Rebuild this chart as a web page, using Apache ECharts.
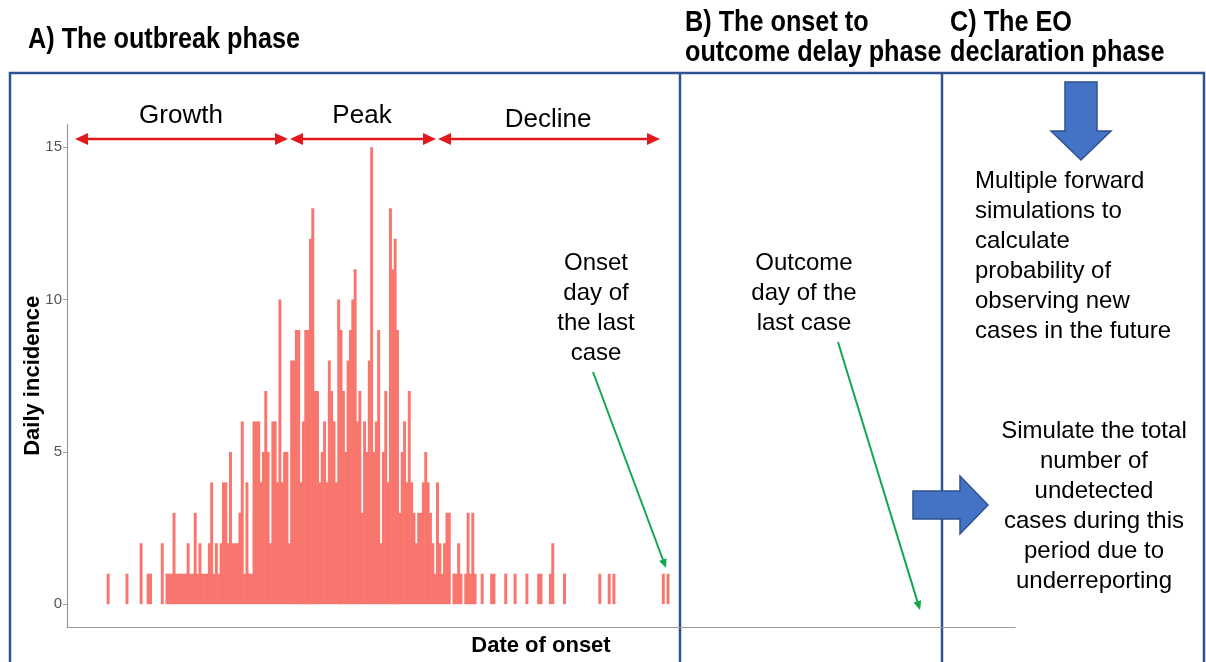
<!DOCTYPE html>
<html lang="en">
<head>
<meta charset="UTF-8">
<title>Outbreak phases</title>
<script src="https://cdn.jsdelivr.net/npm/echarts@6/dist/echarts.min.js"></script>
<style>html, body { margin: 0; padding: 0; background: #fff; }</style>
</head>
<body>
<div id="main" style="width: 1206px; height: 662px"></div>
<script>
// daily incidence by day of onset, day 0 = first case
let dayCounts = [
    1, 0, 0, 0, 0, 0, 0, 0, 1, 0, 0, 0, 0, 0, 2, 0, 0, 1, 1, 0,
    0, 0, 0, 2, 0, 1, 1, 1, 3, 1, 1, 1, 1, 1, 2, 1, 1, 3, 1, 2,
    1, 1, 1, 2, 4, 1, 2, 1, 2, 4, 4, 2, 5, 2, 2, 2, 3, 6, 1, 4,
    1, 1, 6, 6, 6, 4, 5, 7, 5, 2, 6, 6, 4, 10, 4, 5, 5, 2, 8, 8,
    9, 9, 4, 6, 9, 9, 12, 13, 7, 7, 4, 5, 6, 4, 8, 7, 6, 4, 10, 9,
    7, 5, 8, 9, 10, 11, 6, 7, 3, 6, 5, 8, 15, 5, 6, 9, 2, 5, 7, 4,
    13, 11, 12, 9, 3, 5, 6, 4, 7, 4, 3, 2, 3, 3, 4, 5, 4, 3, 2, 1,
    4, 2, 1, 2, 3, 3, 0, 1, 1, 2, 1, 0, 1, 3, 1, 3, 1, 0, 0, 1,
    0, 0, 0, 1, 1, 0, 0, 0, 0, 1, 0, 0, 0, 1, 0, 0, 0, 0, 1, 0,
    0, 0, 0, 1, 1, 0, 0, 0, 1, 2, 0, 0, 0, 0, 1, 0, 0, 0, 0, 0,
    0, 0, 0, 0, 0, 0, 0, 0, 0, 1, 0, 0, 0, 1, 0, 1, 0, 0, 0, 0,
    0, 0, 0, 0, 0, 0, 0, 0, 0, 0, 0, 0, 0, 0, 0, 0, 1, 0, 1
];
let leadDays = 17;    // empty days on the axis before the first onset
let axisDays = 403;   // days spanned by the whole x axis
let yTicks = [0, 5, 10, 15];

let phaseNames = ['Growth', 'Peak', 'Decline'];
let headers = [
    {text: 'A) The outbreak phase', x: 28, y: 40},
    {text: 'B) The onset to\noutcome delay phase', x: 685, y: 38},
    {text: 'C) The EO\ndeclaration phase', x: 950, y: 38}
];

let boxColor = '#2F5290';
let red = '#E31A1C';
let green = '#12A84E';
let barColor = '#F8766D';

// padded series over the axis (empty days drawn as nothing)
let days = [];
let counts = [];
for (let i = 0; i < axisDays; i++) {
    days.push(String(i - leadDays));
    let k = i - leadDays;
    let v = k >= 0 && k < dayCounts.length ? dayCounts[k] : 0;
    counts.push(v > 0 ? v : null);
}

function head(x1, y1, x2, y2, len, half, color) {
    let dx = x2 - x1, dy = y2 - y1;
    let d = Math.sqrt(dx * dx + dy * dy);
    let ux = dx / d, uy = dy / d;
    let bx = x2 - ux * len, by = y2 - uy * len;
    return {
        type: 'polygon', silent: true,
        shape: {points: [[x2, y2], [bx - uy * half, by + ux * half], [bx + uy * half, by - ux * half]]},
        style: {fill: color}
    };
}

function arrow(x1, y1, x2, y2, color, width, len, half, both) {
    let dx = x2 - x1, dy = y2 - y1;
    let d = Math.sqrt(dx * dx + dy * dy);
    let ux = dx / d, uy = dy / d;
    let sx = both ? x1 + ux * len * 0.8 : x1, sy = both ? y1 + uy * len * 0.8 : y1;
    let out = [{
        type: 'line', silent: true,
        shape: {x1: sx, y1: sy, x2: x2 - ux * len * 0.8, y2: y2 - uy * len * 0.8},
        style: {stroke: color, lineWidth: width}
    }, head(x1, y1, x2, y2, len, half, color)];
    if (both) out.push(head(x2, y2, x1, y1, len, half, color));
    return out;
}

function txt(text, x, y, opts) {
    return {
        type: 'text', silent: true, x: x, y: y,
        style: Object.assign({
            text: text, fill: '#000', font: '24px "Liberation Sans", Arial, sans-serif',
            align: 'center', verticalAlign: 'top', lineHeight: 30
        }, opts || {})
    };
}

let g = [];

// panel frames
g.push({type: 'polyline', silent: true,
    shape: {points: [[10, 662], [10, 73], [1204, 73], [1204, 662]]},
    style: {stroke: boxColor, lineWidth: 2.5, fill: null}});
g.push({type: 'line', silent: true, shape: {x1: 680, y1: 73, x2: 680, y2: 662},
    style: {stroke: boxColor, lineWidth: 2.5}});
g.push({type: 'line', silent: true, shape: {x1: 942, y1: 73, x2: 942, y2: 662},
    style: {stroke: boxColor, lineWidth: 2.5}});

// narrow bold headings: Arial bold squeezed horizontally
headers.forEach(function (h) {
    let t = txt(h.text, h.x, h.y, {
        font: 'bold 29px "Liberation Sans", Arial, sans-serif',
        align: 'left', verticalAlign: 'middle', lineHeight: 30
    });
    t.scaleX = 0.87;
    g.push(t);
});

// phase arrows
g = g.concat(arrow(75, 139, 288, 139, red, 2.5, 13, 6, true));
g = g.concat(arrow(290, 139, 436, 139, red, 2.5, 13, 6, true));
g = g.concat(arrow(438, 139, 660, 139, red, 2.5, 13, 6, true));
g.push(txt(phaseNames[0], 181, 101, {font: '26px "Liberation Sans", Arial, sans-serif'}));
g.push(txt(phaseNames[1], 362, 101, {font: '26px "Liberation Sans", Arial, sans-serif'}));
g.push(txt(phaseNames[2], 548, 105, {font: '26px "Liberation Sans", Arial, sans-serif'}));

// last case annotations
g.push(txt('Onset\nday of\nthe last\ncase', 596, 248));
g = g.concat(arrow(593, 372, 666, 568, green, 2, 9, 4, false));
g.push(txt('Outcome\nday of the\nlast case', 804, 248));
g = g.concat(arrow(838, 342, 920, 610, green, 2, 9, 4, false));

// declaration phase
g.push({type: 'polygon', silent: true,
    shape: {points: [[1065, 82], [1097, 82], [1097, 131], [1111, 131], [1081, 160], [1051, 131], [1065, 131]]},
    style: {fill: '#4472C4', stroke: '#2F528F', lineWidth: 1.5}});
g.push(txt('Multiple forward\nsimulations to\ncalculate\nprobability of\nobserving new\ncases in the future', 975, 166, {align: 'left'}));
g.push({type: 'polygon', silent: true,
    shape: {points: [[913, 491], [960, 491], [960, 476], [988, 505], [960, 534], [960, 519], [913, 519]]},
    style: {fill: '#4472C4', stroke: '#2F528F', lineWidth: 1.5}});
g.push(txt('Simulate the total\nnumber of\nundetected\ncases during this\nperiod due to\nunderreporting', 1094, 416));

let chart = echarts.init(document.getElementById('main'));
chart.setOption({
    animation: false,
    backgroundColor: '#fff',
    grid: {left: 67, right: 191, top: 124.5, bottom: 28.5, containLabel: false},
    xAxis: {
        type: 'category', data: days, boundaryGap: true,
        name: 'Date of onset', nameLocation: 'middle', nameGap: 8, nameMoveOverlap: false,
        nameTextStyle: {fontSize: 22, fontWeight: 'bold', color: '#000', fontFamily: 'Liberation Sans'},
        axisLine: {onZero: false, lineStyle: {color: '#9a9a9a', width: 1.2}},
        axisTick: {show: false}, axisLabel: {show: false}, splitLine: {show: false}
    },
    yAxis: {
        type: 'value', min: -0.75, max: 15.75,
        name: 'Daily incidence', nameLocation: 'middle', nameGap: 23, nameRotate: 90, nameMoveOverlap: false,
        nameTextStyle: {fontSize: 22, fontWeight: 'bold', color: '#000', fontFamily: 'Liberation Sans'},
        axisLine: {show: true, lineStyle: {color: '#9a9a9a', width: 1.2}},
        axisTick: {show: true, length: 4, customValues: yTicks, lineStyle: {color: '#9a9a9a'}},
        axisLabel: {customValues: yTicks, fontSize: 15, color: '#555', margin: 5, fontFamily: 'Liberation Sans'},
        splitLine: {show: false}
    },
    series: [{
        type: 'bar', data: counts, barWidth: '125%', barGap: '-100%',
        itemStyle: {color: barColor}, silent: true
    }],
    graphic: {elements: g}
});
</script>
</body>
</html>
